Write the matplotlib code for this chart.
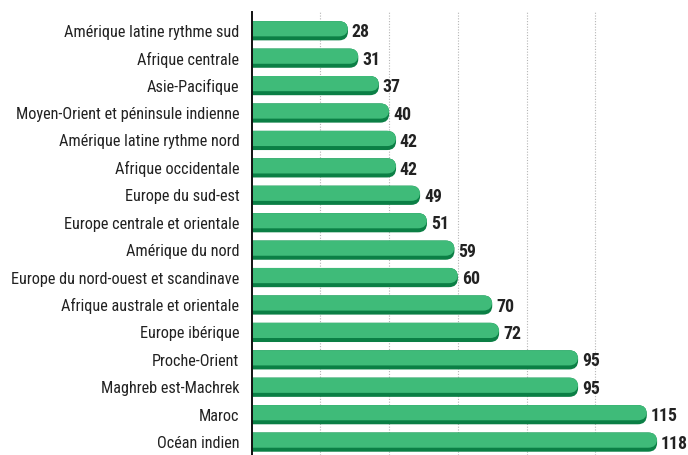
import matplotlib
matplotlib.use('Agg')
import matplotlib.pyplot as plt
from matplotlib.patches import FancyBboxPatch
from matplotlib import font_manager

regions = ['Amérique latine rythme sud', 'Afrique centrale', 'Asie-Pacifique',
           'Moyen-Orient et péninsule indienne', 'Amérique latine rythme nord',
           'Afrique occidentale', 'Europe du sud-est', 'Europe centrale et orientale',
           'Amérique du nord', 'Europe du nord-ouest et scandinave',
           'Afrique australe et orientale', 'Europe ibérique', 'Proche-Orient',
           'Maghreb est-Machrek', 'Maroc', 'Océan indien']
values = [28, 31, 37, 40, 42, 42, 49, 51, 59, 60, 70, 72, 95, 95, 115, 118]
grid_ticks = [20, 40, 60, 80, 100]

installed = {f.name for f in font_manager.fontManager.ttflist}
choices = ['Roboto Condensed', 'Liberation Sans Narrow', 'Open Sans Condensed', 'Roboto']
font = next(f for f in choices if f in installed)
narrow = font != 'Roboto'

LIGHT = '#3fbb79'
DARK = '#0b7f45'

fig = plt.figure(figsize=(6.88, 4.55), dpi=100)
ax = fig.add_axes([0.366, 0.0, 0.634, 0.974])

xmax = 127
n = len(values)
ax.set_xlim(0, xmax)
ax.set_ylim(n - 1 + 0.47, -0.69)

# pixels per data unit, for rounding the bar ends
bbox = ax.get_window_extent()
px_x = bbox.width / xmax
px_y = bbox.height / (n - 1 + 0.47 + 0.69)
aspect = px_x / px_y

h = 0.70
shadow = 4.0 / px_y
rs = 2.6
for i, v in enumerate(values):
    y0 = i - h / 2
    dark = FancyBboxPatch((-5, y0), v + 5, h,
                          boxstyle=f'round,pad=0,rounding_size={rs}',
                          mutation_aspect=aspect, fc=DARK, ec='none', zorder=2)
    light = FancyBboxPatch((-5, y0), v + 5, h - shadow,
                           boxstyle=f'round,pad=0,rounding_size={rs}',
                           mutation_aspect=aspect, fc=LIGHT, ec='none', zorder=3)
    ax.add_patch(dark)
    ax.add_patch(light)
    ax.text(v + 1.1, i + 0.06, str(v), va='center', ha='left',
            fontsize=12.8 if narrow else 11, fontweight='bold', family=font,
            color='#222222')

for g in grid_ticks:
    ax.axvline(g, color='#b5b5b5', lw=0.8, ls=(0, (1, 1.5)), zorder=1)

ax.set_yticks(range(n))
ax.set_yticklabels(regions, family=font, fontsize=11.7 if narrow else 10,
                   color='#222222')
ax.set_xticks([])
ax.tick_params(axis='y', length=0, pad=9)
for s in ['top', 'right', 'bottom']:
    ax.spines[s].set_visible(False)
ax.spines['left'].set_linewidth(1.4)
ax.spines['left'].set_color('#111111')
ax.spines['left'].set_zorder(5)

plt.savefig('out.png', dpi=100)
plt.close()
